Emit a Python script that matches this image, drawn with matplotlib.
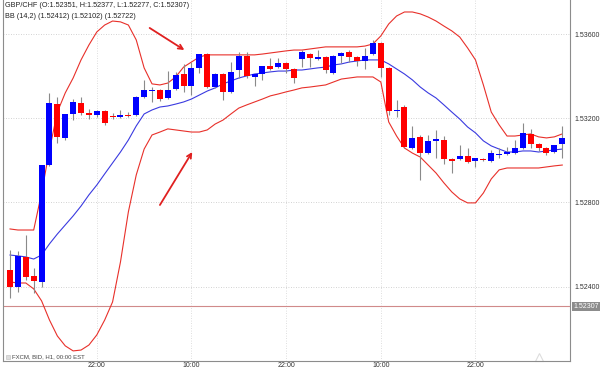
import numpy as np
import matplotlib
matplotlib.use("Agg")
import matplotlib.pyplot as plt

plt.rcParams['font.family'] = ['Liberation Sans', 'DejaVu Sans']

# hourly GBP/CHF candles (open, high, low, close)
opens = [1.52479, 1.52398, 1.52541, 1.52450, 1.52422, 1.52978, 1.53268, 1.53107, 1.53221, 1.53273,
         1.53226, 1.53216, 1.53235, 1.53211, 1.53207, 1.53216, 1.53216, 1.53302, 1.53330, 1.53335,
         1.53297, 1.53340, 1.53411, 1.53354, 1.53440, 1.53506, 1.53349, 1.53411, 1.53326, 1.53430,
         1.53497, 1.53397, 1.53411, 1.53449, 1.53444, 1.53464, 1.53435, 1.53483, 1.53506, 1.53483,
         1.53492, 1.53416, 1.53497, 1.53516, 1.53492, 1.53473, 1.53506, 1.53557, 1.53440, 1.53235,
         1.53254, 1.53059, 1.53112, 1.53035, 1.53093, 1.53097, 1.53007, 1.53007, 1.53021, 1.52997,
         1.53007, 1.52997, 1.53028, 1.53031, 1.53035, 1.53059, 1.53126, 1.53078, 1.53059, 1.53040,
         1.53078]
highs = [1.52574, 1.52569, 1.52645, 1.52489, 1.52978, 1.53321, 1.53302, 1.53221, 1.53292, 1.53302,
         1.53245, 1.53240, 1.53240, 1.53226, 1.53240, 1.53230, 1.53307, 1.53383, 1.53349, 1.53340,
         1.53425, 1.53421, 1.53459, 1.53468, 1.53506, 1.53511, 1.53416, 1.53416, 1.53468, 1.53516,
         1.53516, 1.53411, 1.53449, 1.53487, 1.53487, 1.53468, 1.53440, 1.53525, 1.53511, 1.53525,
         1.53497, 1.53502, 1.53516, 1.53525, 1.53497, 1.53535, 1.53573, 1.53563, 1.53444, 1.53288,
         1.53264, 1.53164, 1.53121, 1.53121, 1.53145, 1.53116, 1.53012, 1.53073, 1.53059, 1.53012,
         1.53012, 1.53050, 1.53059, 1.53064, 1.53097, 1.53178, 1.53150, 1.53083, 1.53064, 1.53050,
         1.53164]
lows = [1.52346, 1.52374, 1.52431, 1.52370, 1.52398, 1.52974, 1.53083, 1.53097, 1.53192, 1.53216,
        1.53197, 1.53207, 1.53169, 1.53197, 1.53202, 1.53207, 1.53211, 1.53297, 1.53278, 1.53283,
        1.53292, 1.53335, 1.53326, 1.53311, 1.53416, 1.53345, 1.53345, 1.53288, 1.53321, 1.53392,
        1.53392, 1.53354, 1.53383, 1.53430, 1.53440, 1.53416, 1.53368, 1.53444, 1.53444, 1.53478,
        1.53416, 1.53411, 1.53464, 1.53468, 1.53449, 1.53435, 1.53502, 1.53397, 1.53216, 1.53207,
        1.53059, 1.53054, 1.52907, 1.53031, 1.53012, 1.52983, 1.52940, 1.53002, 1.52988, 1.52969,
        1.52997, 1.52993, 1.53012, 1.53026, 1.53031, 1.53054, 1.53059, 1.53045, 1.53026, 1.53035,
        1.53012]
closes = [1.52398, 1.52546, 1.52446, 1.52427, 1.52978, 1.53273, 1.53112, 1.53221, 1.53278, 1.53226,
          1.53216, 1.53235, 1.53178, 1.53207, 1.53216, 1.53211, 1.53302, 1.53335, 1.53335, 1.53292,
          1.53335, 1.53406, 1.53354, 1.53440, 1.53506, 1.53349, 1.53411, 1.53326, 1.53421, 1.53497,
          1.53402, 1.53411, 1.53449, 1.53435, 1.53464, 1.53435, 1.53392, 1.53516, 1.53487, 1.53492,
          1.53430, 1.53497, 1.53511, 1.53492, 1.53473, 1.53497, 1.53557, 1.53440, 1.53235, 1.53240,
          1.53064, 1.53107, 1.53035, 1.53093, 1.53102, 1.53007, 1.52997, 1.53021, 1.52993, 1.53012,
          1.53002, 1.53035, 1.53031, 1.53040, 1.53059, 1.53131, 1.53078, 1.53059, 1.53035, 1.53073,
          1.53107]

# Bollinger bands (14, 2) as drawn
bb_upper = [1.52674, 1.52669, 1.52669, 1.52669, 1.52845, 1.53050, 1.53230, 1.53321, 1.53392, 1.53478,
            1.53549, 1.53611, 1.53644, 1.53663, 1.53659, 1.53644, 1.53573, 1.53440, 1.53364, 1.53359,
            1.53368, 1.53397, 1.53444, 1.53468, 1.53492, 1.53502, 1.53502, 1.53502, 1.53502, 1.53502,
            1.53502, 1.53502, 1.53506, 1.53511, 1.53516, 1.53521, 1.53525, 1.53525, 1.53530, 1.53535,
            1.53540, 1.53540, 1.53540, 1.53540, 1.53540, 1.53544, 1.53554, 1.53592, 1.53649, 1.53687,
            1.53706, 1.53706, 1.53697, 1.53682, 1.53663, 1.53639, 1.53616, 1.53587, 1.53535, 1.53478,
            1.53359, 1.53230, 1.53169, 1.53116, 1.53116, 1.53121, 1.53126, 1.53112, 1.53107, 1.53112,
            1.53126]
bb_middle = [1.52550, 1.52546, 1.52541, 1.52531, 1.52550, 1.52603, 1.52650, 1.52693, 1.52736, 1.52783,
             1.52836, 1.52883, 1.52936, 1.52988, 1.53040, 1.53097, 1.53164, 1.53221, 1.53240, 1.53254,
             1.53259, 1.53268, 1.53278, 1.53292, 1.53311, 1.53330, 1.53345, 1.53364, 1.53378, 1.53392,
             1.53402, 1.53411, 1.53416, 1.53421, 1.53425, 1.53425, 1.53430, 1.53430, 1.53435, 1.53440,
             1.53444, 1.53454, 1.53459, 1.53468, 1.53473, 1.53478, 1.53478, 1.53478, 1.53459, 1.53435,
             1.53411, 1.53383, 1.53349, 1.53321, 1.53297, 1.53264, 1.53230, 1.53197, 1.53159, 1.53131,
             1.53093, 1.53069, 1.53054, 1.53040, 1.53040, 1.53045, 1.53045, 1.53040, 1.53045, 1.53050,
             1.53054]
bb_lower = [1.52422, 1.52417, 1.52417, 1.52389, 1.52332, 1.52241, 1.52165, 1.52118, 1.52094, 1.52098,
            1.52122, 1.52170, 1.52241, 1.52327, 1.52517, 1.52755, 1.52931, 1.53054, 1.53121, 1.53135,
            1.53150, 1.53145, 1.53140, 1.53135, 1.53135, 1.53145, 1.53173, 1.53192, 1.53221, 1.53249,
            1.53264, 1.53278, 1.53292, 1.53307, 1.53316, 1.53326, 1.53335, 1.53345, 1.53349, 1.53354,
            1.53359, 1.53373, 1.53387, 1.53392, 1.53397, 1.53397, 1.53397, 1.53373, 1.53183, 1.53116,
            1.53059, 1.53035, 1.53016, 1.52978, 1.52940, 1.52893, 1.52850, 1.52817, 1.52798, 1.52798,
            1.52845, 1.52912, 1.52955, 1.52964, 1.52964, 1.52964, 1.52964, 1.52964, 1.52969, 1.52974,
            1.52978]

price_ticks = [1.524, 1.528, 1.532, 1.536]
time_tick_idx = [11, 23, 35, 47, 59]
time_tick_labels = ["22:00", "10:00", "22:00", "10:00", "22:00"]
last_price = 1.52307

title1 = "GBP/CHF (O:1.52351, H:1.52377, L:1.52277, C:1.52307)"
title2 = "BB (14,2) (1.52412) (1.52102) (1.52722)"
footer = "FXCM, BID, H1, 00:00 EST"

# red hand-drawn arrows (tail -> head, in candle index / price)
arrow1 = ((17.7, 1.53630), (22.1, 1.53525))
arrow2 = ((19.0, 1.52788), (23.1, 1.53040))

o = np.array(opens)
c = np.array(closes)
x = np.arange(len(o))

fig = plt.figure(figsize=(6.0, 3.69), dpi=100)
ax = fig.add_axes([0.005, 0.0217, 0.945, 0.9783])

# grid
for p in price_ticks:
    ax.axhline(p, color="#c4c4c4", lw=0.6, ls=(0, (1, 2)), zorder=0)
for i in time_tick_idx:
    ax.axvline(i, color="#d4d4d4", lw=0.6, ls=(0, (1, 2)), zorder=0)

# bands
ax.plot(x, bb_upper, color="#e8302a", lw=0.8, zorder=2)
ax.plot(x, bb_lower, color="#e8302a", lw=0.8, zorder=2)
ax.plot(x, bb_middle, color="#3a3ae0", lw=0.8, zorder=2)

# candles
up = c >= o
colors = np.where(up, "#0000ff", "#ff0000")
ax.vlines(x, lows, highs, color="#8a8a8a", lw=0.8, zorder=3)
body_h = np.maximum(np.abs(c - o), 0.00003)
body_b = np.minimum(o, c)
ax.bar(x, body_h, bottom=body_b, width=0.76, color=colors, lw=0, zorder=4)

# last price line
ax.axhline(last_price, color="#d08a8a", lw=0.8, zorder=1)

# arrows
for (tail, head) in (arrow1, arrow2):
    ax.annotate("", xy=head, xytext=tail,
                arrowprops=dict(arrowstyle="->", color="#e02020", lw=1.3,
                                shrinkA=0, shrinkB=0, mutation_scale=8),
                zorder=5)

ax.set_xlim(-0.89, 70.98)
ax.set_ylim(1.52046, 1.53763)

ax.yaxis.tick_right()
ax.set_yticks(price_ticks)
ax.set_yticklabels([f"{p:.5f}" for p in price_ticks])
ax.set_xticks(time_tick_idx)
ax.set_xticklabels(time_tick_labels)
ax.tick_params(axis="both", length=0, labelsize=5, colors="#333333")
ax.tick_params(axis="y", pad=3)
ax.tick_params(axis="x", pad=1)

for side in ("left", "right", "bottom"):
    ax.spines[side].set_color("#8c8c8c")
    ax.spines[side].set_linewidth(0.8)
ax.spines["top"].set_visible(False)

# last price tag
ax.text(1.006, last_price, f"{last_price:.5f}", transform=ax.get_yaxis_transform(),
        fontsize=5, color="white", va="center", ha="left",
        bbox=dict(boxstyle="square,pad=0.15", fc="#8c8c8c", ec="none"))

ax.text(0.004, 0.995, title1, transform=ax.transAxes, fontsize=5.2, va="top", ha="left", color="#222222")
ax.text(0.004, 0.965, title2, transform=ax.transAxes, fontsize=5.2, va="top", ha="left", color="#222222")

ax.plot([0.008], [0.012], marker="s", ms=2.5, mfc="#dddddd", mec="#bbbbbb", mew=0.4,
        transform=ax.transAxes, clip_on=False)
ax.text(0.016, 0.012, footer, transform=ax.transAxes, fontsize=4.3, va="center", ha="left", color="#444444")
ax.plot([0.945], [0.01], marker="^", ms=6, mfc="none", mec="#dddddd", mew=0.8,
        transform=ax.transAxes, clip_on=False)

fig.savefig("out.png", dpi=100, facecolor="white")
